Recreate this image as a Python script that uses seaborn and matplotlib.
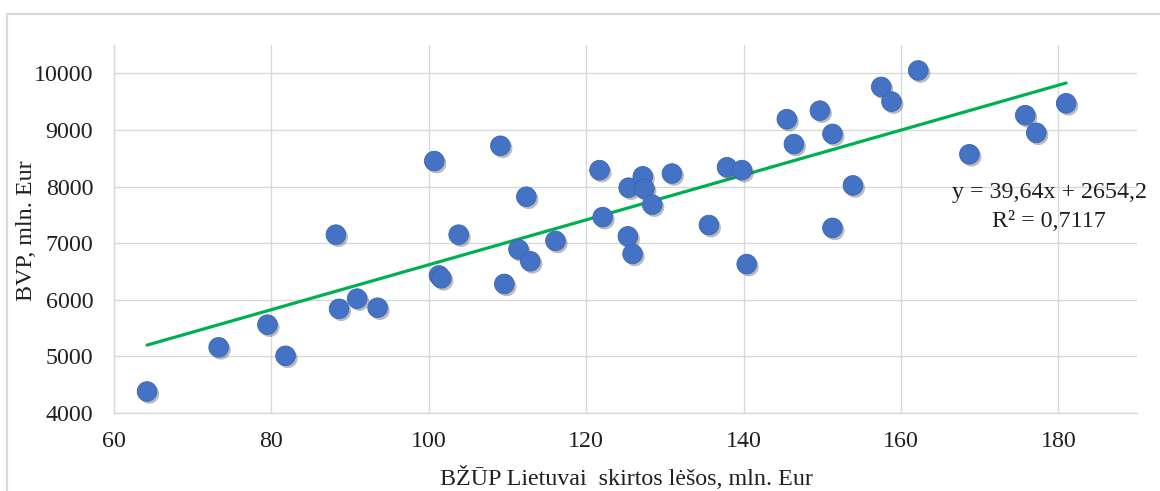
import numpy as np
import pandas as pd
import matplotlib
matplotlib.use("Agg")
import matplotlib.pyplot as plt
import matplotlib.patheffects as pe
from matplotlib.patches import Rectangle
import seaborn as sns

# Data
cap_funds = [64.2, 73.3, 79.5, 81.8, 88.6, 90.9, 93.5, 88.2, 100.7, 109.1,
             103.8, 112.4, 121.7, 125.4, 127.2, 127.4, 128.4, 130.9, 122.1, 125.3,
             135.6, 137.9, 139.8, 145.5, 146.4, 116.1, 111.4, 112.9, 101.3, 101.6,
             109.6, 125.9, 140.4, 149.7, 151.3, 153.9, 151.3, 157.5, 158.8, 162.2,
             168.7, 175.8, 177.2, 181.0]
gdp = [4380, 5160, 5560, 5010, 5840, 6020, 5860, 7150, 8450, 8720,
       7150, 7820, 8290, 7980, 8180, 7960, 7680, 8230, 7460, 7120,
       7320, 8340, 8290, 9190, 8750, 7040, 6890, 6680, 6430, 6380,
       6280, 6810, 6630, 9340, 8930, 8020, 7270, 9760, 9500, 10050,
       8570, 9260, 8950, 9470]
trend_slope = 39.64
trend_intercept = 2654.2
r_squared_text = "0,7117"
x_ticks = [60, 80, 100, 120, 140, 160, 180]
y_ticks = [4000, 5000, 6000, 7000, 8000, 9000, 10000]
x_label = "BŽŪP Lietuvai  skirtos lėšos, mln. Eur"
y_label = "BVP, mln. Eur"
eq_text = "y = 39,64x + 2654,2"

df = pd.DataFrame({"x": cap_funds, "y": gdp})
xs = np.array([min(cap_funds), max(cap_funds)])
trend = pd.DataFrame({"x": xs, "y": trend_slope * xs + trend_intercept})

sns.set_theme(style="white")
plt.rcParams["font.family"] = ["Liberation Serif", "DejaVu Serif"]
text_color = "#202020"
fs = 17.3

fig = plt.figure(figsize=(11.6, 4.91), dpi=100)
ax = fig.add_axes([114 / 1160, 1 - 413 / 491, (1137 - 114) / 1160, (413 - 45) / 491])

# outer chart border
fig.patches.append(Rectangle((7 / 1160, -0.2), 1.2, 1.2 - 14 / 491,
                             transform=fig.transFigure, fill=False,
                             edgecolor="#D9D9D9", linewidth=1.6, zorder=0))

sns.lineplot(data=trend, x="x", y="y", ax=ax, color="#00B050", linewidth=2.3,
             zorder=2)
sns.scatterplot(data=df, x="x", y="y", ax=ax, s=200, color="#4472C4",
                edgecolor="#3A66B5", linewidth=0.6, zorder=3)
for coll in ax.collections:
    coll.set_path_effects([pe.SimplePatchShadow(offset=(1.6, -1.8),
                                                shadow_rgbFace="#555555",
                                                alpha=0.4),
                           pe.Normal()])

ax.set_xlim(60, 190)
ax.set_ylim(4000, 10500)
ax.set_xticks(x_ticks)
ax.set_yticks(y_ticks)
ax.grid(True, color="#D9D9D9", linewidth=1.0)
ax.set_axisbelow(True)
for side in ["top", "right"]:
    ax.spines[side].set_visible(False)
for side in ["left", "bottom"]:
    ax.spines[side].set_color("#D9D9D9")
    ax.spines[side].set_linewidth(1.0)
ax.tick_params(axis="both", length=0, labelsize=fs, colors=text_color)
ax.tick_params(axis="y", pad=15)
ax.tick_params(axis="x", pad=13)
ax.set_xlabel(x_label, fontsize=fs, color=text_color)
ax.set_ylabel(y_label, fontsize=fs, color=text_color)
ax.xaxis.set_label_coords((626 - 114) / (1137 - 114), -(478 - 413) / (413 - 45))
ax.yaxis.set_label_coords(-(114 - 27) / (1137 - 114), (413 - 231) / (413 - 45))
ax.xaxis.label.set_va("center")
ax.yaxis.label.set_va("center")

ax.text(1049 / 1160, 1 - 207 / 491, eq_text + "\n" + "R² = " + r_squared_text,
        transform=fig.transFigure, ha="center", va="center", fontsize=fs,
        color=text_color, linespacing=1.45)

fig.savefig("out.png", dpi=100, facecolor="white")
